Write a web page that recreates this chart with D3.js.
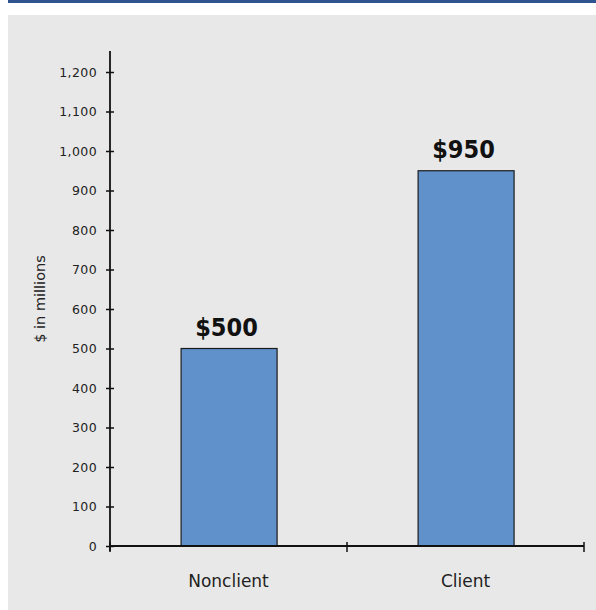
<!DOCTYPE html>
<html>
<head>
<meta charset="utf-8">
<script src="https://cdn.jsdelivr.net/npm/d3@7"></script>
<style>
  html, body { margin: 0; padding: 0; background: #fff; }
  svg { display: block; font-family: "DejaVu Sans", Verdana, sans-serif; }
</style>
</head>
<body>
<svg id="chart" width="596" height="610"></svg>
<script>
const categories = ['Nonclient', 'Client'];
const values = [500, 950];
const valueLabels = ['$500', '$950'];
const yTicks = [0, 100, 200, 300, 400, 500, 600, 700, 800, 900, 1000, 1100, 1200];

const svg = d3.select('#chart');

// header rule + grey panel
svg.append('rect').attr('x', 8).attr('y', 0).attr('width', 588).attr('height', 3).attr('fill', '#2f5590');
svg.append('rect').attr('x', 8).attr('y', 15).attr('width', 588).attr('height', 595).attr('fill', '#e8e8e8');

const x0 = 110, x1 = 584, yBase = 546, yTop = 51;

const x = d3.scaleBand().domain(categories).range([x0, x1]).paddingInner(0).paddingOuter(0);
const y = d3.scaleLinear().domain([0, 1200]).range([yBase, 72]);

const g = svg.append('g');

// bars
g.selectAll('.bar')
    .data(values)
    .join('rect')
    .attr('class', 'bar')
    .attr('x', (d, i) => x(categories[i]) + x.bandwidth() * 0.3)
    .attr('width', x.bandwidth() * 0.405)
    .attr('y', d => y(d))
    .attr('height', d => y(0) - y(d))
    .attr('fill', '#6191cb')
    .attr('stroke', '#1a1a1a')
    .attr('stroke-width', 1.2);

// value labels
g.selectAll('.val')
    .data(values)
    .join('text')
    .attr('class', 'val')
    .attr('x', (d, i) => x(categories[i]) + x.bandwidth() * 0.5 - 2)
    .attr('y', d => y(d) - 13)
    .attr('text-anchor', 'middle')
    .attr('font-family', '"DejaVu Sans Condensed", "DejaVu Sans", sans-serif')
    .attr('font-weight', 'bold')
    .attr('font-size', 25)
    .attr('fill', '#111')
    .text((d, i) => valueLabels[i]);

// y axis
const yAxis = g.append('g')
    .attr('transform', `translate(${x0},0)`)
    .call(d3.axisLeft(y).tickValues(yTicks).tickSize(4).tickPadding(9).tickFormat(d3.format(',')));
yAxis.select('.domain').remove();
yAxis.append('line').attr('x1', 0).attr('x2', 0).attr('y1', yTop).attr('y2', yBase + 5)
    .attr('stroke', '#111').attr('stroke-width', 1.8);
yAxis.selectAll('.tick line').attr('x1', -4).attr('x2', 4).attr('stroke', '#111').attr('stroke-width', 1.5);
yAxis.selectAll('.tick text').attr('font-size', 12.5).attr('fill', '#222')
    .attr('font-family', '"DejaVu Sans", Verdana, sans-serif').attr('letter-spacing', 0.4).attr('x', -13);

// x axis
const xAxis = g.append('g').attr('transform', `translate(0,${yBase})`);
xAxis.append('line').attr('x1', x0).attr('x2', x1).attr('stroke', '#111').attr('stroke-width', 1.8);
const xTickPos = [x0, x(categories[1]), x1];
xAxis.selectAll('.xt')
    .data(xTickPos)
    .join('line')
    .attr('class', 'xt')
    .attr('x1', d => d).attr('x2', d => d)
    .attr('y1', -4).attr('y2', 6)
    .attr('stroke', '#111').attr('stroke-width', 1.5);
xAxis.selectAll('.xl')
    .data(categories)
    .join('text')
    .attr('class', 'xl')
    .attr('x', d => x(d) + x.bandwidth() / 2)
    .attr('y', 41)
    .attr('text-anchor', 'middle')
    .attr('font-size', 17)
    .attr('fill', '#222')
    .text(d => d);

// y title
svg.append('text')
    .attr('transform', 'translate(45,299) rotate(-90)')
    .attr('text-anchor', 'middle')
    .attr('font-size', 14.5)
    .attr('fill', '#222')
    .text('$ in millions');
</script>
</body>
</html>
